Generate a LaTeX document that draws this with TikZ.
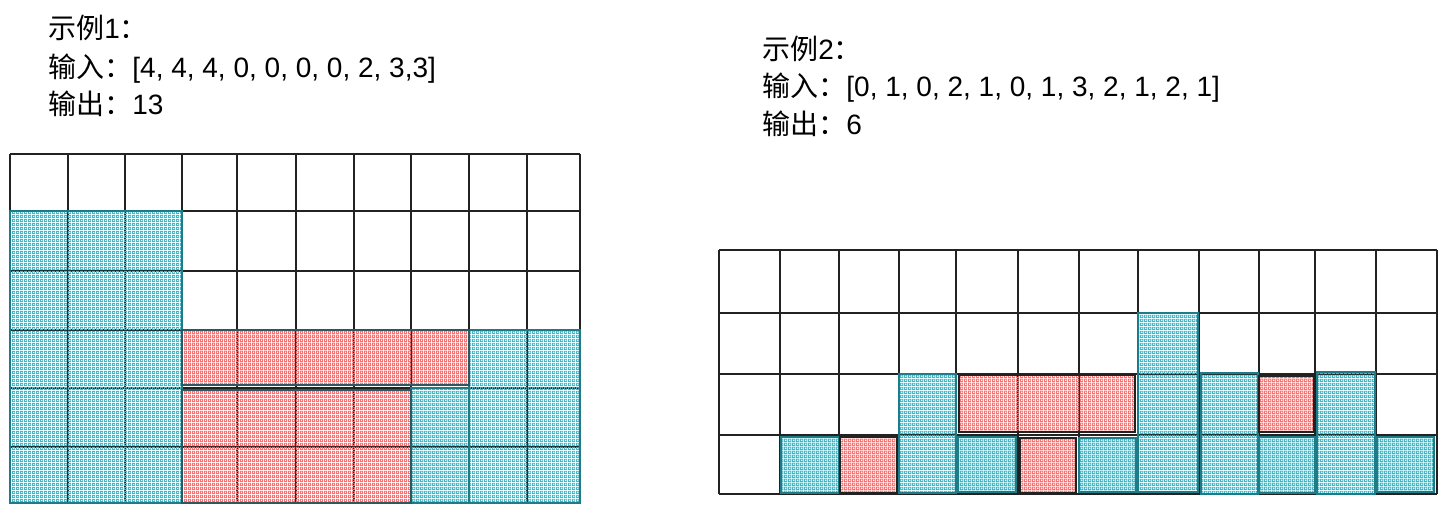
\documentclass[tikz,border=0pt]{standalone}
\usepackage{fontspec}
\setmainfont{Liberation Sans}
\newfontfamily\cjk{Noto Sans CJK SC}
\usetikzlibrary{patterns.meta}
\definecolor{cyanfill}{HTML}{3FB8C8}
\definecolor{redfill}{HTML}{FF6E6E}
\definecolor{tealline}{HTML}{1E7C88}
\definecolor{slateline}{HTML}{2E5860}
\definecolor{gridcol}{HTML}{222222}
\tikzdeclarepattern{
  name=meshfill,
  type=uncolored,
  bottom left={(0pt,0pt)},
  top right={(2pt,2pt)},
  tile size={(2pt,2pt)},
  code={\fill[even odd rule] (0pt,0pt) rectangle (2pt,2pt) (0.6pt,0.6pt) rectangle (1.4pt,1.4pt);}
}
\tikzset{
  gridline/.style={draw=gridcol, line width=0.7pt},
  bluefill/.style={pattern=meshfill, pattern color=cyanfill},
  redpat/.style={pattern=meshfill, pattern color=redfill},
  blueedge/.style={draw=tealline, line width=1pt},
  rededgeL/.style={draw=slateline, line width=0.8pt},
  rededgeR/.style={draw=gridcol, line width=0.8pt},
  label/.style={anchor=base west, inner sep=0pt, font=\fontsize{14}{16}\selectfont},
}
\begin{document}
\begin{tikzpicture}[x=0.5pt,y=-0.5pt]
\useasboundingbox (0,0) rectangle (1447,514);
% texts
\node[label] (l1) at (48,39) {{\cjk 示例}1{\cjk ：}};
\node[label] (l2) at (48,77) {{\cjk 输入：}[4, 4, 4, 0, 0, 0, 0, 2, 3,3]};
\node[label] (l3) at (48,114) {{\cjk 输出：}13};
\node[label] (r1) at (762,59) {{\cjk 示例}2{\cjk ：}};
\node[label] (r2) at (762,97) {{\cjk 输入：}[0, 1, 0, 2, 1, 0, 1, 3, 2, 1, 2, 1]};
\node[label] (r3) at (762,134) {{\cjk 输出：}6};
% left grid
\foreach \x in {10,68,125,182,237,296,354,411,469,527,580} \draw[gridline] (\x,154) -- (\x,503);
\foreach \y in {154,211,271,330,388,447,503} \draw[gridline] (10,\y) -- (580,\y);
% left fills
\path[bluefill] (10,211) rectangle (182,503);
\path[bluefill] (411,388) rectangle (469,503);
\path[bluefill] (469,330) rectangle (580,503);
\path[redpat] (182,330) rectangle (469,385);
\path[redpat] (182,390) rectangle (411,503);
\draw[blueedge] (10,211) rectangle (182,503);
\draw[blueedge] (411,388) rectangle (469,503);
\draw[blueedge] (469,330) rectangle (580,503);
\draw[rededgeL] (182,330) rectangle (469,385);
\draw[rededgeL] (182,390) rectangle (411,503);
% right grid
\foreach \x in {719,780,839,899,956,1018,1079,1138,1199,1259,1315,1376,1437} \draw[gridline] (\x,250) -- (\x,494);
\foreach \y in {250,313,374,435,494} \draw[gridline] (719,\y) -- (1437,\y);
% right blue blocks
\foreach \a/\b/\c/\d in {781/437/839/493, 899/374/956/493, 958/437/1016/492, 1079/438/1136/492, 1138/313/1198/492, 1201/373/1258/494, 1259/437/1315/493, 1317/372/1375/494, 1377/437/1434/492}{
  \path[bluefill] (\a,\b) rectangle (\c,\d);
  \draw[blueedge] (\a,\b) rectangle (\c,\d);
}
% right red blocks
\foreach \a/\b/\c/\d in {840/437/897/493, 959/375/1135/432, 1020/438/1076/493, 1259/376/1314/432}{
  \path[redpat] (\a,\b) rectangle (\c,\d);
  \draw[rededgeR] (\a,\b) rectangle (\c,\d);
}
\end{tikzpicture}
\end{document}
